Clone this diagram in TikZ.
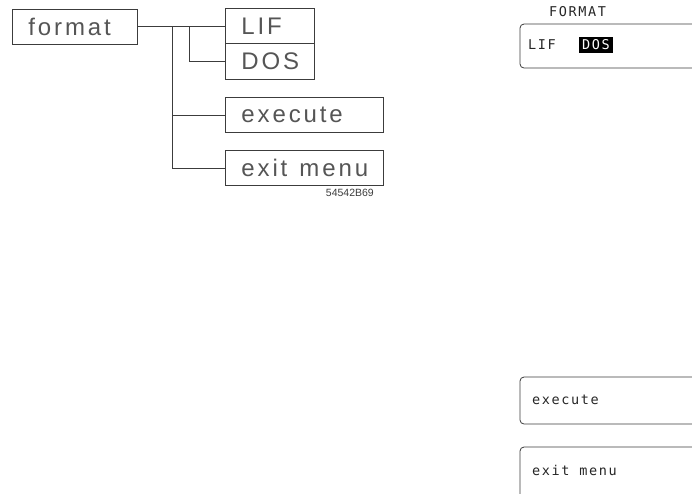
\documentclass[tikz,border=0pt]{standalone}
\usepackage{fontspec}
\setmainfont{Liberation Sans}
\newfontfamily\plotfont[LetterSpace=12]{Liberation Sans}
\newfontfamily\lblfont{Liberation Sans}
\newfontfamily\scrfont[LetterSpace=12]{DejaVu Sans Mono}
\definecolor{ink}{RGB}{60,60,60}
\definecolor{txt}{RGB}{85,85,85}
\begin{document}
\begin{tikzpicture}[x=1pt,y=-1pt,
  menubox/.style={draw=ink, line width=0.9pt, rectangle, inner xsep=16pt, inner ysep=0pt,
     minimum height=35pt, text width=#1, align=left, anchor=north west,
     font=\plotfont\fontsize{24}{24}\selectfont, text=txt},
  conn/.style={draw=ink, line width=0.8pt},
  scr/.style={font=\scrfont\fontsize{13.5}{13.5}\selectfont, text=black!85, inner sep=0pt, anchor=west},
  scrbox/.style={draw=ink, line width=0.8pt, rounded corners=4pt}]
\useasboundingbox (0,0) rectangle (692,493);
% left tree
\node[menubox=93pt] (fmt) at (12,9) {format};
\node[menubox=57pt] (lif) at (225,8) {LIF};
\node[menubox=57pt, minimum height=36pt] (dos) at (225,43) {DOS};
\node[menubox=126pt] (exe) at (225,97) {execute};
\node[menubox=126pt] (ext) at (225,150) {\mbox{exit\hspace{12pt}menu}};
\node[font=\lblfont\fontsize{10.5}{10.5}\selectfont, text=ink, inner sep=0pt, anchor=east] (code) at (374,193) {54542B69};
\coordinate (j1) at (172,26);
\coordinate (j2) at (189,26);
\draw[conn] (fmt.east |- j1) -- (lif.west |- j1);
\draw[conn] (j1) |- (exe.west);
\draw[conn] (j1) |- (ext.west);
\draw[conn] (j2) |- (dos.west);
% right screen
\node[scr, anchor=west] (title) at (549,12) {FORMAT};
\draw[scrbox] (692,24) -- (520,24) -- (520,68) -- (692,68);
\node[scr] (slif) at (528,45) {LIF};
\node[scr, fill=black, text=white, inner xsep=3pt, inner ysep=2.5pt] (sdos) at (579,45) {DOS};
\draw[scrbox] (692,377) -- (520,377) -- (520,424) -- (692,424);
\node[scr] (sexe) at (532,400) {execute};
\draw[scrbox] (692,447) -- (520,447) -- (520,500);
\node[scr] (sext) at (532,470) {exit menu};
\end{tikzpicture}
\end{document}
